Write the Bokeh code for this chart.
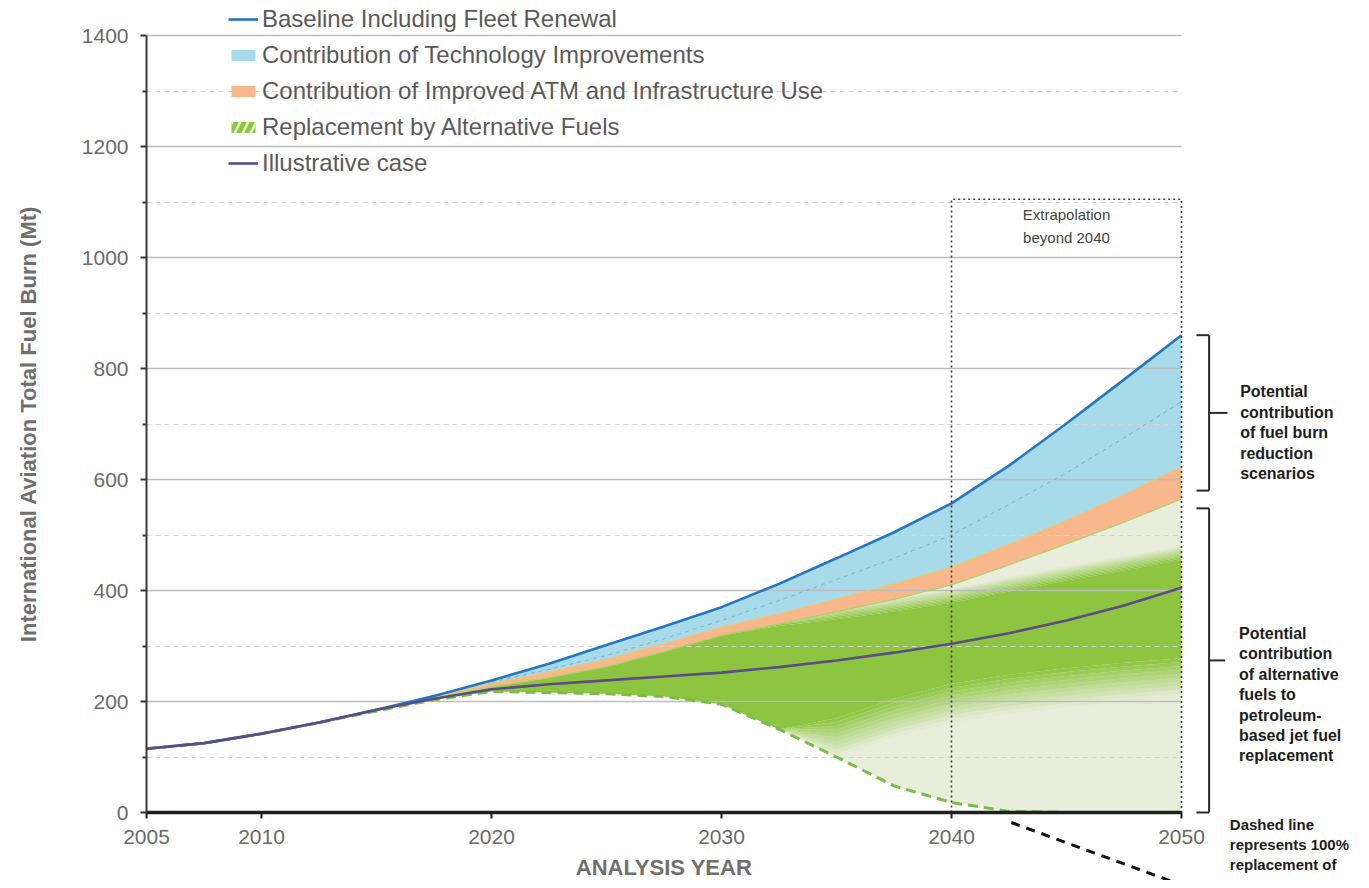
import numpy as np
from bokeh.plotting import figure
from bokeh.models import (FixedTicker, Grid, Legend, LegendItem, Label, Arrow, Range1d, LinearAxis)
from bokeh.embed import file_html
from bokeh.resources import INLINE

# ---------------- data ----------------
years = [2005, 2007.5, 2010, 2012.5, 2015, 2017.5, 2020, 2022.5, 2025, 2027.5,
         2030, 2032.5, 2035, 2037.5, 2040, 2042.5, 2045, 2047.5, 2050]
baseline = [115, 125, 142, 162, 185, 210, 238, 268, 302, 335,
            370, 412, 458, 505, 557, 625, 701, 780, 860]
after_technology = [115, 125, 142, 162, 185, 208, 232, 253, 276, 304,
                    334, 358, 385, 412, 442, 483, 526, 573, 623]
after_atm = [115, 125, 142, 162, 185, 206, 226, 243, 263, 290,
             319, 340, 362, 384, 410, 446, 484, 523, 565]
illustrative = [115, 125, 142, 162, 185, 205, 222, 231, 238, 245,
                252, 262, 274, 288, 304, 323, 346, 373, 405]
full_replacement = [115, 125, 142, 162, 183, 203, 218, 216, 214, 209,
                    195, 150, 100, 48, 18, 2, 0, 0, 0]
# dense green core of the alternative-fuel area (fades to pale outside)
green_core_top = [115, 125, 142, 162, 185, 206, 226, 243, 263, 290,
                  319, 336, 348, 362, 378, 398, 418, 436, 455]
green_core_bottom = [115, 125, 142, 162, 183, 203, 218, 216, 214, 209,
                     195, 150, 170, 205, 232, 248, 260, 270, 278]
# thin dotted line inside the technology band
dotted_years = [2020, 2022.5, 2025, 2027.5, 2030, 2032.5, 2035, 2037.5,
                2040, 2042.5, 2045, 2047.5, 2050]
dotted_values = [235, 258, 283, 313, 346, 382, 420, 458, 500, 555, 612, 675, 740]

x_ticks = [2005, 2010, 2020, 2030, 2040, 2050]
y_ticks = [0, 200, 400, 600, 800, 1000, 1200, 1400]
y_minor_ticks = [100, 300, 500, 700, 900, 1100, 1300]
extrapolation_years = [2040, 2050]
extrapolation_top = 1105
upper_bracket = (860, 580)
lower_bracket = (548, 0)

# ---------------- style / layout ----------------
FONT = "Liberation Sans"
BLUE = "#2277c2"
LIGHT_BLUE = "#a8dbe9"
ORANGE = "#f8b88b"
GREEN = "#8dc540"
PALE = "#e9eedc"
PURPLE = "#5b4c86"
GRID = "#bdbdbd"

W, H = 1361, 880
X0_PX, PX_PER_YEAR = 146, 23.0      # where 2005 sits, scale
Y0_PX, PX_PER_MT = 812, 0.555       # where 0 sits, scale
x_start = x_ticks[0] - X0_PX / PX_PER_YEAR
x_end = x_start + W / PX_PER_YEAR
y_end = Y0_PX / PX_PER_MT
y_start = -(H - Y0_PX) / PX_PER_MT

p = figure(width=W, height=H, output_backend="svg", toolbar_location=None,
           x_range=Range1d(x_start, x_end), y_range=Range1d(y_start, y_end),
           x_axis_location=None, y_axis_location=None, min_border=0)
p.outline_line_color = None
p.background_fill_color = "white"
p.xgrid.visible = False

x_lo, x_hi = x_ticks[0], x_ticks[-1]

# grids: major solid (over fills), minor dashed (under fills)
p.ygrid.ticker = FixedTicker(ticks=y_ticks[1:])
p.ygrid.grid_line_color = GRID
p.ygrid.grid_line_width = 1.5
p.ygrid.level = "underlay"
p.ygrid.cross_bounds = (x_lo, x_hi)
minor_grid = Grid(dimension=1, ticker=FixedTicker(ticks=y_minor_ticks),
                  grid_line_color="#d4d4d4", grid_line_dash="5 4",
                  grid_line_width=1.2, level="image", cross_bounds=(x_lo, x_hi))
p.add_layout(minor_grid)

yrs = np.array(years, dtype=float)
base = np.array(baseline, dtype=float)
tech = np.array(after_technology, dtype=float)
atm = np.array(after_atm, dtype=float)
low = np.array(full_replacement, dtype=float)
ctop = np.minimum(np.array(green_core_top, dtype=float), atm)
cbot = np.maximum(np.array(green_core_bottom, dtype=float), low)

# alternative fuels area: pale base + dense green core + soft fades
p.varea(x=yrs, y1=low, y2=atm, fill_color=PALE, level="image")
p.varea(x=yrs, y1=cbot, y2=np.maximum(ctop, cbot), fill_color=GREEN, level="image")
N = 10
UP_FADE, DN_FADE = 26.0, 70.0
for i in range(N):
    a = 1 - (i + 0.5) / N
    u1 = np.minimum(ctop + UP_FADE * i / N, atm)
    u2 = np.minimum(ctop + UP_FADE * (i + 1) / N, atm)
    p.varea(x=yrs, y1=u1, y2=u2, fill_color=GREEN, fill_alpha=a, level="image")
    d1 = np.maximum(cbot - DN_FADE * (i + 1) / N, low)
    d2 = np.maximum(cbot - DN_FADE * i / N, low)
    p.varea(x=yrs, y1=d1, y2=d2, fill_color=GREEN, fill_alpha=a, level="image")

# ATM band and technology band
r_atm = p.varea(x=yrs, y1=atm, y2=tech, fill_color=ORANGE, level="image")
r_tech = p.varea(x=yrs, y1=tech, y2=base, fill_color=LIGHT_BLUE, level="image")
# zero-height area used only as the legend swatch of the alternative fuels
r_alt = p.varea(x=yrs, y1=atm, y2=atm, fill_color=GREEN, hatch_pattern="/",
                hatch_color="#e4f1cf", hatch_scale=16, hatch_weight=2.5)

# edges and lines
p.line(yrs, atm, line_color="#a8d36c", line_width=1.3)
p.line(yrs, tech, line_color="#f2c46c", line_width=1.3)
p.line(dotted_years, dotted_values, line_color="#86b8d3", line_width=1.3, line_dash="4 4")
p.line(yrs, low, line_color="#77bf44", line_width=3, line_dash="10 6")
r_base = p.line(yrs, base, line_color=BLUE, line_width=2.6)
r_illu = p.line(yrs, illustrative, line_color=PURPLE, line_width=2.6)

# extrapolation box
p.line([extrapolation_years[0], extrapolation_years[0], extrapolation_years[1], extrapolation_years[1]],
       [0, extrapolation_top, extrapolation_top, 0],
       line_color="#3a3a3a", line_width=1.6, line_dash="2 3")
p.add_layout(Label(x=sum(extrapolation_years) / 2, y=extrapolation_top - 12,
                   text="Extrapolation\nbeyond 2040", text_align="center",
                   text_baseline="top", text_font=FONT, text_font_size="15px",
                   text_color="#444444", text_line_height=1.35))

# axes (fixed at the data origin)
yaxis = LinearAxis(fixed_location=x_lo, bounds=(y_ticks[0], y_ticks[-1]),
                   ticker=FixedTicker(ticks=y_ticks, minor_ticks=y_minor_ticks),
                   axis_label="International Aviation Total Fuel Burn (Mt)")
xaxis = LinearAxis(fixed_location=0, bounds=(x_lo, x_hi),
                   ticker=FixedTicker(ticks=x_ticks), axis_label="ANALYSIS YEAR")
for ax in (xaxis, yaxis):
    ax.major_label_text_font = FONT
    ax.major_label_text_font_size = "21px"
    ax.major_label_text_color = "#6a6a6a"
    ax.axis_label_text_font = FONT
    ax.axis_label_text_font_size = "22px"
    ax.axis_label_text_font_style = "bold"
    ax.axis_label_text_color = "#6f6f6f"
    ax.major_tick_in = 0
    ax.major_tick_out = 6
yaxis.axis_line_color = "#383838"
yaxis.axis_line_width = 2
yaxis.major_tick_line_color = "#383838"
yaxis.major_tick_line_width = 2
yaxis.minor_tick_in = 0
yaxis.minor_tick_out = 4
yaxis.minor_tick_line_color = "#383838"
yaxis.minor_tick_line_width = 2
yaxis.major_label_standoff = 12
yaxis.axis_label_standoff = 38
xaxis.axis_line_color = "#1f1f1f"
xaxis.axis_line_width = 3.5
xaxis.major_tick_line_color = "#1f1f1f"
xaxis.major_tick_line_width = 2
xaxis.minor_tick_line_color = None
xaxis.major_label_standoff = 11
xaxis.axis_label_standoff = 8
p.add_layout(yaxis, "left")
p.add_layout(xaxis, "below")

# legend
legend = Legend(items=[
    LegendItem(label="Baseline Including Fleet Renewal", renderers=[r_base]),
    LegendItem(label="Contribution of Technology Improvements", renderers=[r_tech]),
    LegendItem(label="Contribution of Improved ATM and Infrastructure Use", renderers=[r_atm]),
    LegendItem(label="Replacement by Alternative Fuels", renderers=[r_alt]),
    LegendItem(label="Illustrative case", renderers=[r_illu]),
], location=(228, 702), orientation="vertical", label_text_font=FONT,
    label_text_font_size="24px", label_text_color="#5a5a5a", glyph_width=30,
    glyph_height=14, label_height=30, label_standoff=4, spacing=6, padding=0,
    margin=0, background_fill_alpha=0, border_line_alpha=0)
p.add_layout(legend)

# right-hand brackets and notes
def bracket(top, bottom, tick_end):
    xv, xh = 2051.2, 2050.65
    tick_y = (top + bottom) / 2
    for xs, ys, xe, ye in [(xv, top, xv, bottom), (xh, top, xv, top),
                           (xh, bottom, xv, bottom), (xv, tick_y, tick_end, tick_y)]:
        p.add_layout(Arrow(x_start=xs, y_start=ys, x_end=xe, y_end=ye, end=None,
                           line_color="#2a2a2a", line_width=2))

bracket(upper_bracket[0], upper_bracket[1], 2052.0)
bracket(lower_bracket[0], lower_bracket[1], 2051.9)

note_style = dict(text_font=FONT, text_font_size="16px", text_font_style="bold",
                  text_color="#1c1c1c", text_baseline="top", text_align="left")
p.add_layout(Label(x=2052.55, y=773, text="Potential\ncontribution\nof fuel burn\nreduction\nscenarios",
                   text_line_height=1.2, **note_style))
p.add_layout(Label(x=2052.5, y=338,
                   text="Potential\ncontribution\nof alternative\nfuels to\npetroleum-\nbased jet fuel\nreplacement",
                   text_line_height=1.2, **note_style))
dash_note_style = dict(note_style, text_font_size="15px")
p.add_layout(Label(x=2052.1, y=-6, text="Dashed line\nrepresents 100%\nreplacement of",
                   text_line_height=1.18, **dash_note_style))
p.add_layout(Arrow(x_start=2042.6, y_start=-18, x_end=2051.6, y_end=-155, end=None,
                   line_color="#111111", line_width=3, line_dash="9 7"))

open("out.html", "w").write(file_html(p, INLINE))
